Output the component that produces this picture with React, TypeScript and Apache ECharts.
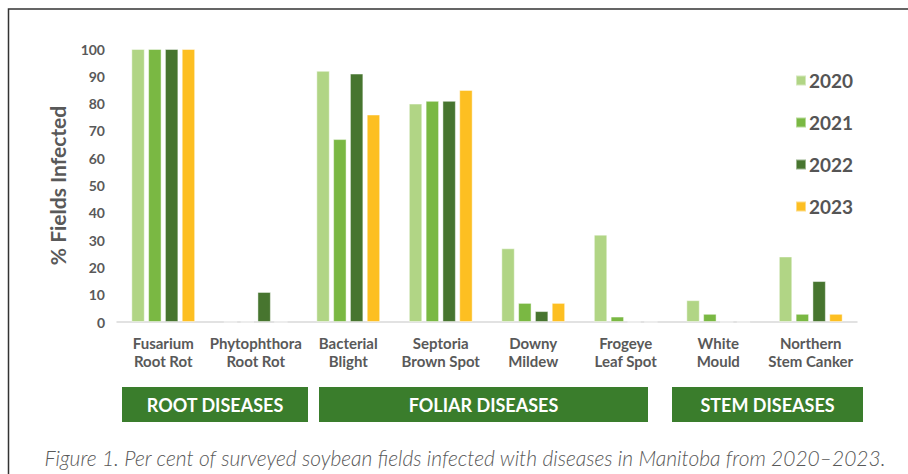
import React, { useEffect, useRef } from "react";
import * as echarts from "echarts";

const categories = [
  "Fusarium\nRoot Rot",
  "Phytophthora\nRoot Rot",
  "Bacterial\nBlight",
  "Septoria\nBrown Spot",
  "Downy\nMildew",
  "Frogeye\nLeaf Spot",
  "White\nMould",
  "Northern\nStem Canker",
];
const years = ["2020", "2021", "2022", "2023"];
const v2020 = [100, 0, 92, 80, 27, 32, 8, 24];
const v2021 = [100, 0, 67, 81, 7, 2, 3, 3];
const v2022 = [100, 11, 91, 81, 4, 0, 0, 15];
const v2023 = [100, 0, 76, 85, 7, 0, 0, 3];
const colors = ["#B1D585", "#7AB843", "#47752F", "#FDBF22"];
const groupLabels = ["ROOT DISEASES", "FOLIAR DISEASES", "STEM DISEASES"];
const caption =
  "Figure 1. Per cent of surveyed soybean fields infected with diseases in Manitoba from 2020\u20132023.";

export default function App() {
  const ref = useRef<HTMLDivElement>(null);
  useEffect(() => {
    if (!ref.current) return;
    const chart = echarts.init(ref.current, null, { renderer: "svg" });
    const seriesData = [v2020, v2021, v2022, v2023];
    const font = "Lato, 'Noto Sans', sans-serif";
    const boxes = [
      { x: 122, w: 186 },
      { x: 319, w: 329 },
      { x: 672, w: 191 },
    ];
    chart.setOption({
      animation: false,
      backgroundColor: "#ffffff",
      grid: { left: 117, right: 51, top: 49, bottom: 152 },
      legend: {
        orient: "vertical",
        left: 790,
        top: 66,
        itemWidth: 10,
        itemHeight: 10,
        itemGap: 23,
        icon: "rect",
        textStyle: {
          fontFamily: font,
          fontSize: 19,
          fontWeight: "bold",
          color: "#555555",
          padding: [0, 0, 0, -2],
        },
        data: years,
      },
      xAxis: {
        type: "category",
        data: categories,
        axisLine: { lineStyle: { color: "#D9D9D9", width: 1.5 } },
        axisTick: { show: false },
        axisLabel: {
          interval: 0,
          margin: 12,
          fontFamily: font,
          fontSize: 15,
          fontWeight: "bold",
          color: "#595959",
          lineHeight: 18,
        },
      },
      yAxis: {
        type: "value",
        min: 0,
        max: 100,
        interval: 10,
        name: "% Fields Infected",
        nameLocation: "middle",
        nameGap: 49,
        nameTextStyle: {
          fontFamily: font,
          fontSize: 21,
          fontWeight: "bold",
          color: "#595959",
        },
        axisLine: { show: false },
        axisTick: { show: false },
        splitLine: { show: false },
        axisLabel: {
          margin: 12,
          fontFamily: font,
          fontSize: 14,
          fontWeight: "bold",
          color: "#595959",
        },
      },
      series: years.map((y, i) => ({
        name: y,
        type: "bar",
        data: seriesData[i],
        barGap: "25%",
        barCategoryGap: "31%",
        itemStyle: {
          color: colors[i],
          borderColor: "rgba(255,255,255,0.45)",
          borderWidth: 1,
        },
      })),
      graphic: [
        {
          type: "rect",
          shape: { x: 8.5, y: 9, width: 1000, height: 1000 },
          style: { fill: "none", stroke: "#333333", lineWidth: 1.5 },
          silent: true,
        },
        ...boxes.map((b, i) => ({
          type: "group",
          children: [
            {
              type: "rect",
              shape: { x: b.x, y: 387, width: b.w, height: 35 },
              style: { fill: "#3A7D2C" },
            },
            {
              type: "text",
              x: b.x + b.w / 2,
              y: 405,
              style: {
                text: groupLabels[i],
                fill: "#ffffff",
                fontFamily: font,
                fontSize: 18,
                fontWeight: "bold",
                align: "center",
                verticalAlign: "middle",
              },
            },
          ],
        })),
        {
          type: "text",
          x: 465,
          y: 457,
          style: {
            text: caption,
            fill: "#595959",
            fontFamily: font,
            fontSize: 21,
            fontStyle: "italic",
            fontWeight: 300,
            align: "center",
            verticalAlign: "middle",
          },
        },
      ],
    });
    return () => chart.dispose();
  }, []);
  return (
    <div
      ref={ref}
      style={{ position: "absolute", left: 0, top: 0, width: 908, height: 474 }}
    />
  );
}
